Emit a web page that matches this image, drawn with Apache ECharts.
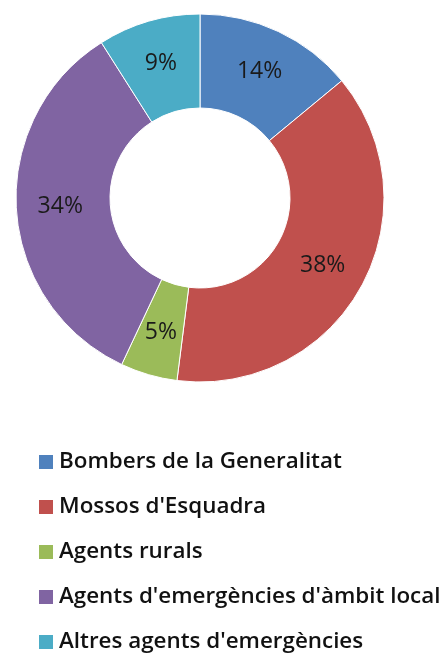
<!DOCTYPE html>
<html>
<head>
<meta charset="utf-8">
<script src="https://cdn.jsdelivr.net/npm/echarts@6/dist/echarts.min.js"></script>
<style>
  html, body { margin: 0; padding: 0; background: #fff; }
  #chartArea { width: 444px; height: 661px; }
</style>
</head>
<body>
<div id="chartArea"></div>
<script>
var categories = [
    'Bombers de la Generalitat',
    "Mossos d'Esquadra",
    'Agents rurals',
    "Agents d'emergències d'àmbit local",
    'Altres agents d\'emergències'
];
var shares = [14, 38, 5, 34, 9];
var colors = ['#4F81BD', '#C0504D', '#9BBB59', '#8064A2', '#4BACC6'];

var myChart = echarts.init(document.getElementById('chartArea'));

var pieData = categories.map(function(name, i) {
    return { name: name, value: shares[i], itemStyle: { color: colors[i] } };
});

myChart.setOption({
    animation: false,
    legend: {
        orient: 'vertical',
        left: 37,
        top: 448,
        height: 213,
        padding: 0,
        itemWidth: 16,
        itemHeight: 16,
        itemGap: 17,
        icon: 'rect',
        textStyle: {
            fontFamily: 'Open Sans',
            fontWeight: 600,
            fontSize: 22.4,
            lineHeight: 28,
            color: '#111'
        },
        data: categories
    },
    series: [{
        type: 'pie',
        center: [200, 198],
        radius: [90, 184],
        startAngle: 90,
        clockwise: true,
        avoidLabelOverlap: false,
        itemStyle: { borderColor: '#fff', borderWidth: 1 },
        label: {
            position: 'inside',
            formatter: '{c}%',
            fontFamily: 'Open Sans',
            fontSize: 23,
            color: '#1a1a1a'
        },
        labelLine: { show: false },
        data: pieData
    }]
});
</script>
</body>
</html>
